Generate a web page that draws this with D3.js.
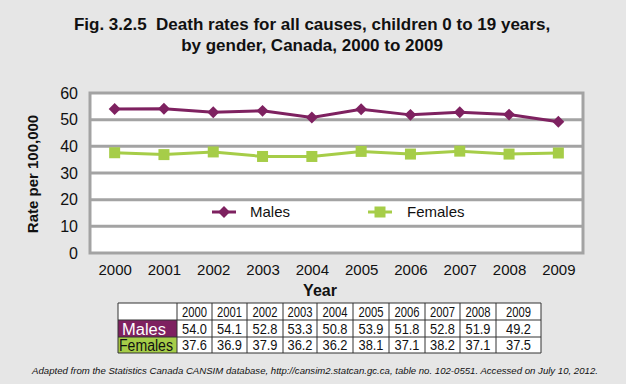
<!DOCTYPE html>
<html>
<head>
<meta charset="utf-8">
<script src="https://cdn.jsdelivr.net/npm/d3@7"></script>
<style>
  body { margin: 0; background: #e6e6e6; }
  svg { display: block; font-family: "Liberation Sans", Arial, sans-serif; }
</style>
</head>
<body>
<div id="chart"></div>
<script>
var years = [2000, 2001, 2002, 2003, 2004, 2005, 2006, 2007, 2008, 2009]
var males = [54.0, 54.1, 52.8, 53.3, 50.8, 53.9, 51.8, 52.8, 51.9, 49.2]
var females = [37.6, 36.9, 37.9, 36.2, 36.2, 38.1, 37.1, 38.2, 37.1, 37.5]
var yTicks = [0, 10, 20, 30, 40, 50, 60]

var maleColor = "#7e2160"
var femaleColor = "#a6cd48"
var gridColor = "#a3a3a3"

var width = 626, height = 384
var svg = d3.select("#chart").append("svg")
    .attr("width", width)
    .attr("height", height)

svg.append("rect").attr("width", width).attr("height", height).attr("fill", "#e6e6e6")

// title
var title = svg.append("text")
    .attr("text-anchor", "middle")
    .attr("font-weight", "bold")
    .attr("font-size", 17)
    .attr("fill", "#111")
    .style("white-space", "pre")
title.append("tspan").attr("x", 312).attr("y", 30)
    .text("Fig. 3.2.5  Death rates for all causes, children 0 to 19 years,")
title.append("tspan").attr("x", 312).attr("y", 51)
    .text("by gender, Canada, 2000 to 2009")

var plot = {left: 90, right: 583, top: 93, bottom: 253}

var x = d3.scalePoint()
    .domain(years)
    .range([plot.left, plot.right])
    .padding(0.5)
var y = d3.scaleLinear()
    .domain([0, 60])
    .range([plot.bottom, plot.top])

svg.append("rect")
    .attr("x", plot.left).attr("y", plot.top)
    .attr("width", plot.right - plot.left).attr("height", plot.bottom - plot.top)
    .attr("fill", "white")

// gridlines
svg.append("g").selectAll("line")
    .data(yTicks.slice(1, -1))
    .join("line")
    .attr("x1", plot.left).attr("x2", plot.right)
    .attr("y1", d => y(d)).attr("y2", d => y(d))
    .attr("stroke", gridColor)
    .attr("stroke-width", 3)

svg.append("rect")
    .attr("x", plot.left).attr("y", plot.top)
    .attr("width", plot.right - plot.left).attr("height", plot.bottom - plot.top)
    .attr("fill", "none")
    .attr("stroke", gridColor)
    .attr("stroke-width", 3)

// axes
var yAxis = svg.append("g")
    .attr("transform", "translate(" + (plot.left - 4) + ",0)")
    .call(d3.axisLeft(y).tickValues(yTicks).tickSize(0).tickPadding(8))
yAxis.select(".domain").remove()
yAxis.selectAll("text")
    .attr("font-size", 16)
    .attr("font-family", "Liberation Sans, Arial, sans-serif")
    .attr("fill", "#111")

var xAxis = svg.append("g")
    .attr("transform", "translate(0," + (plot.bottom + 2) + ")")
    .call(d3.axisBottom(x).tickSize(0).tickPadding(9))
xAxis.select(".domain").remove()
xAxis.selectAll("text")
    .attr("font-size", 15)
    .attr("font-family", "Liberation Sans, Arial, sans-serif")
    .attr("fill", "#111")

svg.append("text")
    .attr("transform", "translate(38,174) rotate(-90)")
    .attr("text-anchor", "middle")
    .attr("font-weight", "bold")
    .attr("font-size", 15)
    .attr("fill", "#111")
    .text("Rate per 100,000")

svg.append("text")
    .attr("x", 320).attr("y", 296)
    .attr("text-anchor", "middle")
    .attr("font-weight", "bold")
    .attr("font-size", 16)
    .attr("fill", "#111")
    .text("Year")

// lines
var line = d3.line()
    .x((d, i) => x(years[i]))
    .y(d => y(d))

svg.append("path").datum(females)
    .attr("d", line)
    .attr("fill", "none")
    .attr("stroke", femaleColor)
    .attr("stroke-width", 3)
svg.append("g").selectAll("rect")
    .data(females)
    .join("rect")
    .attr("x", (d, i) => x(years[i]) - 5.5)
    .attr("y", d => y(d) - 5.5)
    .attr("width", 11).attr("height", 11)
    .attr("fill", femaleColor)

svg.append("path").datum(males)
    .attr("d", line)
    .attr("fill", "none")
    .attr("stroke", maleColor)
    .attr("stroke-width", 3)
var diamond = d3.symbol().type(d3.symbolDiamond2).size(90)
svg.append("g").selectAll("path")
    .data(males)
    .join("path")
    .attr("d", diamond)
    .attr("transform", (d, i) => "translate(" + x(years[i]) + "," + y(d) + ")")
    .attr("fill", maleColor)

// legend
var legend = [
    {name: "Males", color: maleColor, x0: 212, tx: 250, marker: "diamond"},
    {name: "Females", color: femaleColor, x0: 368, tx: 407, marker: "square"}
]
var ly = 212
legend.forEach(function(l) {
    svg.append("line")
        .attr("x1", l.x0).attr("x2", l.x0 + 24)
        .attr("y1", ly).attr("y2", ly)
        .attr("stroke", l.color).attr("stroke-width", 3)
    if (l.marker == "diamond") {
        svg.append("path").attr("d", diamond)
            .attr("transform", "translate(" + (l.x0 + 12) + "," + ly + ")")
            .attr("fill", l.color)
    } else {
        svg.append("rect")
            .attr("x", l.x0 + 12 - 5.5).attr("y", ly - 5.5)
            .attr("width", 11).attr("height", 11)
            .attr("fill", l.color)
    }
    svg.append("text")
        .attr("x", l.tx).attr("y", ly + 5)
        .attr("font-size", 15)
        .attr("fill", "#111")
        .text(l.name)
})

// data table
var colEdges = [118, 177, 212, 247, 283, 317, 353, 389, 425, 460, 496, 541]
var rowEdges = [303, 320, 337, 353]
var rows = [
    {label: "", values: years.map(String)},
    {label: "Males", values: males.map(d => d.toFixed(1)), bg: maleColor, fg: "white", lx: 122, lw: 44},
    {label: "Females", values: females.map(d => d.toFixed(1)), bg: femaleColor, fg: "#111", lx: 119, lw: 54}
]
var table = svg.append("g")
table.append("rect")
    .attr("x", colEdges[0]).attr("y", rowEdges[0])
    .attr("width", colEdges[colEdges.length - 1] - colEdges[0])
    .attr("height", rowEdges[rowEdges.length - 1] - rowEdges[0])
    .attr("fill", "white")
rows.forEach(function(r, ri) {
    var y0 = rowEdges[ri], y1 = rowEdges[ri + 1]
    if (r.bg) {
        table.append("rect")
            .attr("x", colEdges[0]).attr("y", y0)
            .attr("width", colEdges[1] - colEdges[0]).attr("height", y1 - y0)
            .attr("fill", r.bg)
        table.append("text")
            .attr("x", r.lx).attr("y", y1 - 2)
            .attr("font-size", 16)
            .attr("fill", r.fg)
            .attr("textLength", r.lw)
            .attr("lengthAdjust", "spacingAndGlyphs")
            .text(r.label)
    }
    r.values.forEach(function(v, ci) {
        table.append("text")
            .attr("x", (colEdges[ci + 1] + colEdges[ci + 2]) / 2)
            .attr("y", y1 - 3)
            .attr("text-anchor", "middle")
            .attr("font-size", 15)
            .attr("fill", "#111")
            .attr("textLength", 25)
            .attr("lengthAdjust", "spacingAndGlyphs")
            .text(v)
    })
})
colEdges.forEach(function(cx) {
    table.append("line")
        .attr("x1", cx).attr("x2", cx)
        .attr("y1", rowEdges[0]).attr("y2", rowEdges[rowEdges.length - 1])
        .attr("stroke", "#333").attr("stroke-width", 1)
})
rowEdges.forEach(function(ry) {
    table.append("line")
        .attr("x1", colEdges[0]).attr("x2", colEdges[colEdges.length - 1])
        .attr("y1", ry).attr("y2", ry)
        .attr("stroke", "#333").attr("stroke-width", 1)
})

// source note, sized so it fits its natural width
var foot = svg.append("text")
    .attr("x", 315).attr("y", 374)
    .attr("text-anchor", "middle")
    .attr("font-style", "italic")
    .attr("font-size", 10.5)
    .attr("fill", "#111")
    .text("Adapted from the Statistics Canada CANSIM database, http://cansim2.statcan.gc.ca, table no. 102-0551. Accessed on July 10, 2012.")
var fw = foot.node().getComputedTextLength()
if (fw > 566) {
    foot.attr("font-size", 10.5 * 566 / fw)
}
</script>
</body>
</html>
